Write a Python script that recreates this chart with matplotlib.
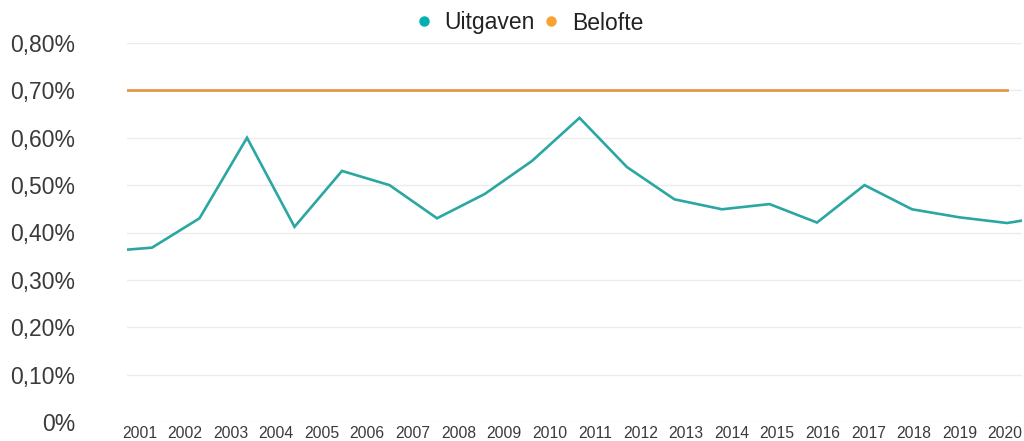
import matplotlib
matplotlib.use("Agg")
import matplotlib.pyplot as plt
from matplotlib.lines import Line2D
import numpy as np

plt.rcParams['font.family'] = ['Liberation Sans', 'DejaVu Sans']

# Data (fractions, shown as percentages)
uitgaven = [0.360, 0.368, 0.430, 0.600, 0.412, 0.530, 0.500, 0.430, 0.481, 0.551,
            0.642, 0.538, 0.470, 0.449, 0.460, 0.421, 0.500, 0.449, 0.432, 0.420, 0.436]
belofte = [0.70] * 20
years = [str(y) for y in range(2001, 2021)]
yticks = [0, 0.1, 0.2, 0.3, 0.4, 0.5, 0.6, 0.7, 0.8]
ytick_labels = ["0%", "0,10%", "0,20%", "0,30%", "0,40%", "0,50%", "0,60%", "0,70%", "0,80%"]

teal_line = "#2aa7a2"
teal_dot = "#00b1b1"
orange_line = "#e8944c"
orange_dot = "#f7a233"
text_col = "#3a3a3a"
grid_col = "#ececec"

fig = plt.figure(figsize=(10.24, 4.41), dpi=100)
ax = fig.add_axes([127/1024, 19/441, (1022-127)/1024, (422-43)/441])

xu = np.arange(len(uitgaven)) - 1
xb = np.arange(len(belofte)) - 1
ax.plot(xu, uitgaven, color=teal_line, lw=1.9, solid_joinstyle='miter', zorder=3)
ax.plot(xb, belofte, color=orange_line, lw=2.0, zorder=3)

ax.set_xlim((127-152)/47.5, (1022-152)/47.5)
ax.set_ylim(0, 0.8)
ax.set_yticks(yticks)
ax.set_yticklabels(ytick_labels)
ax.tick_params(axis='y', length=0, pad=37.4, labelsize=16.5, labelcolor=text_col)
ax.set_xticks([])
ax.grid(axis='y', color=grid_col, lw=1.0, zorder=0)
for s in ax.spines.values():
    s.set_visible(False)

# category axis for the year labels
ax2 = ax.twiny()
ax2.xaxis.set_ticks_position('bottom')
ax2.xaxis.set_label_position('bottom')
ax2.set_xlim(2001 + (127-139.5)/45.55, 2001 + (1022-139.5)/45.55)
ax2.set_xticks(range(2001, 2021))
ax2.set_xticklabels(years)
ax2.tick_params(axis='x', length=0, pad=3.2, labelsize=11.3, labelcolor=text_col)
for s in ax2.spines.values():
    s.set_visible(False)

handles = [Line2D([], [], ls='none', marker='o', ms=6.5, color=teal_dot, label='Uitgaven'),
           Line2D([], [], ls='none', marker='o', ms=6.5, color=orange_dot, label='Belofte')]
leg = fig.legend(handles=handles, loc='center', bbox_to_anchor=(529/1024, 1-23/441),
                 ncol=2, frameon=False, fontsize=16.5, handlelength=0.8,
                 handletextpad=0.5, columnspacing=0.3, borderaxespad=0)
for t in leg.get_texts():
    t.set_color("#222222")

fig.savefig("out.png", dpi=100)
